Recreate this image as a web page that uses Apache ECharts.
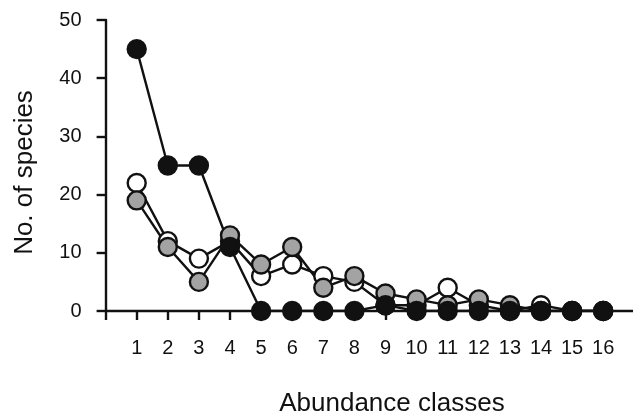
<!DOCTYPE html>
<html>
<head>
<meta charset="utf-8">
<script src="https://cdn.jsdelivr.net/npm/echarts@6/dist/echarts.min.js"></script>
<style>html,body{margin:0;padding:0;background:#fff;}#c{width:633px;height:416px;}</style>
</head>
<body>
<div id="c"></div>
<script>
var classes = [1,2,3,4,5,6,7,8,9,10,11,12,13,14,15,16];
var blackVals = [45,25,25,11,0,0,0,0,1,0,0,0,0,0,0,0];
var whiteVals = [22,12,9,12,6,8,6,5,1,1,4,1,0,1,0,0];
var grayVals  = [19,11,5,13,8,11,4,6,3,2,1,2,1,0,0,0];
var yTicks = [0,10,20,30,40,50];

function pairs(v){ return classes.map(function(c,i){ return [c, v[i]]; }); }
var font = '"Liberation Sans", Arial, sans-serif';
function mk(name, vals, fill){
  return {
    name: name, type: 'line', data: pairs(vals),
    symbol: 'circle', symbolSize: 18,
    lineStyle: {color: '#111', width: 2.4},
    itemStyle: {color: fill, borderColor: '#111', borderWidth: 2.4},
    emphasis: {disabled: true}, animation: false
  };
}
var chart = echarts.init(document.getElementById('c'));
chart.setOption({
  backgroundColor: '#fff',
  animation: false,
  grid: {left: 105.6, width: 528.7, top: 20, bottom: 105, containLabel: false, outerBoundsMode: 'none'},
  xAxis: {
    type: 'value', min: 0, max: 17, interval: 1,
    name: 'Abundance classes', nameLocation: 'middle', nameGap: 80,
    nameTextStyle: {fontFamily: font, fontSize: 26, color: '#111', padding: [0,0,0,44]},
    axisLine: {onZero: false, lineStyle: {color: '#111', width: 2.4}},
    axisTick: {length: 9, lineStyle: {color: '#111', width: 2.4},
      customValues: [0,1,2,3,4,5,6,7,8,9,10,11,12,13,14,15,16]},
    axisLabel: {margin: 27, fontFamily: font, fontSize: 20, color: '#111',
      customValues: classes},
    splitLine: {show: false}
  },
  yAxis: {
    type: 'value', min: yTicks[0], max: yTicks[yTicks.length-1], interval: 10,
    name: 'No. of species', nameLocation: 'middle', nameGap: 68,
    nameTextStyle: {fontFamily: font, fontSize: 26, color: '#111', padding: [0,14,0,0]},
    axisLine: {show: true, lineStyle: {color: '#111', width: 2.4}},
    axisTick: {show: true, length: 9, lineStyle: {color: '#111', width: 2.4}},
    axisLabel: {margin: 24, fontFamily: font, fontSize: 20, color: '#111'},
    splitLine: {show: false}
  },
  series: [
    mk('white', whiteVals, '#ffffff'),
    mk('gray', grayVals, '#a3a3a3'),
    mk('black', blackVals, '#111111')
  ]
});
</script>
</body>
</html>
